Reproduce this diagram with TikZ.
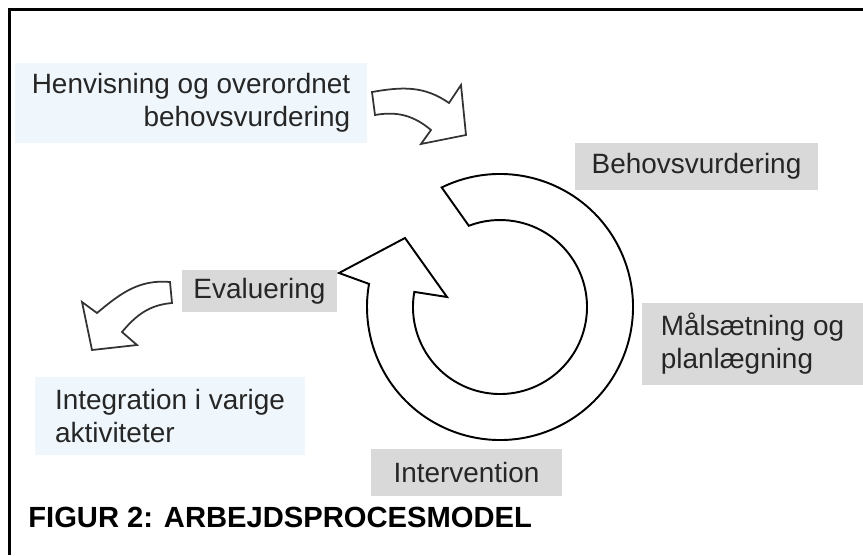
\documentclass[tikz,border=0pt]{standalone}
\usepackage{fontspec}
\setmainfont{Liberation Sans}
\usetikzlibrary{positioning}
\definecolor{boxgray}{HTML}{D9D9D9}
\definecolor{boxblue}{HTML}{F0F7FC}
\definecolor{labeltext}{HTML}{262626}
\tikzset{phase/.style={fill=boxgray, text=labeltext, inner sep=0pt, font=\fontsize{15.9}{18.7}\selectfont},
         note/.style={fill=boxblue, text=labeltext, inner sep=0pt, font=\fontsize{15.9}{18.7}\selectfont},
         ring/.style={draw=black, line width=1.1pt, fill=white, line join=miter},
         blockarrow/.style={draw=black!80, line width=1pt, fill=white},
        }

\begin{document}
\begin{tikzpicture}
        \useasboundingbox (0,0) rectangle (17.26,11.10);
        \draw[line width=1.6pt](0.19,0)--(0.19,10.91)--(17.26,10.91);

        \coordinate(c)at(10,4.96);
        \draw[ring]([shift={(116:2.66)}]c)arc[start angle=116,end angle=-190,radius=2.66]
            --(6.78,5.64)--(8.10,6.34)--(8.94,5.16)
            --([shift={(-190:1.74)}]c)arc[start angle=-190,end angle=111,radius=1.74]--cycle;

        \node[note, minimum width=7.04cm, minimum height=1.6cm, align=right](henv)at(3.82,9.04)
            {Henvisning og overordnet\\behovsvurdering};
        \node[phase, minimum width=4.86cm, minimum height=0.94cm](behov)at(13.93,7.77){Behovsvurdering};
        \node[phase, minimum width=4.42cm, minimum height=1.64cm, align=left](maal)at(15.05,4.22)
            {Målsætning og\\planlægning};
        \node[phase, minimum width=3.82cm, minimum height=0.94cm](interv)at(9.33,1.65){Intervention};
        \node[phase, minimum width=3.1cm, minimum height=0.84cm](eval)at(5.19,5.28){Evaluering};
        \node[note, minimum width=5.4cm, minimum height=1.56cm, align=left](integ)at(3.4,2.78)
            {Integration i varige\\aktiviteter};

        \draw[blockarrow](7.44,9.26)to[out=10,in=145](8.98,9.04)--(9.22,9.40)--(9.32,8.40)
            --(8.42,8.22)--(8.62,8.50)to[out=140,in=10](7.50,8.80)--cycle;
        \draw[blockarrow](3.40,5.46)to[out=175,in=40](1.94,4.84)--(1.64,5.06)--(1.84,4.10)
            --(2.74,4.20)--(2.44,4.46)to[out=50,in=185](3.44,5.04)--cycle;

        \node[anchor=base west, inner sep=0pt, font=\fontsize{16.6}{20}\selectfont\bfseries](title)at(0.56,0.56)
            {FIGUR 2: ARBEJDSPROCESMODEL};
    \end{tikzpicture}
\end{document}
